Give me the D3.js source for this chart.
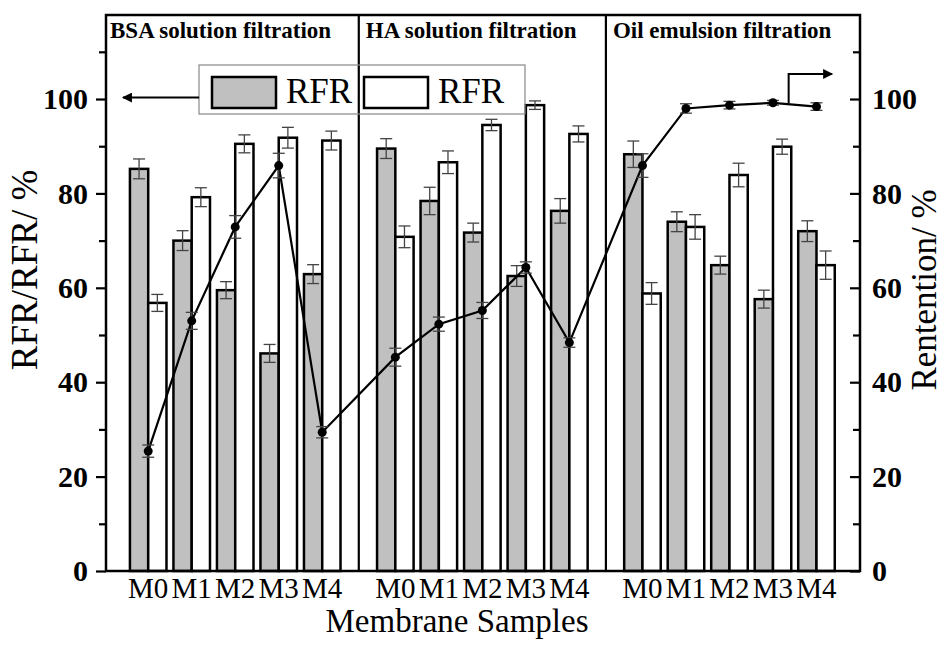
<!DOCTYPE html>
<html>
<head>
  <meta charset="utf-8">
  <script src="https://d3js.org/d3.v7.min.js"></script>
  <style type="text/css">
  body{
    margin: 0;
    background: #fff;
  }
  svg{
    display: block;
    font-family: "Liberation Serif", "Times New Roman", serif;
  }
  </style>
</head>
<body>
  <script type="text/javascript">
    "use strict";

    // categories
    var samples = ["M0", "M1", "M2", "M3", "M4"];
    var groups = ["BSA solution filtration", "HA solution filtration", "Oil emulsion filtration"];

    // grey bars (left axis)
    var rfrGray = [[85.2, 70.0, 59.5, 46.1, 62.9],
                   [89.5, 78.4, 71.7, 62.5, 76.3],
                   [88.3, 74.0, 64.8, 57.6, 72.0]];
    var rfrGrayErr = [[2.1, 2.1, 1.8, 1.9, 2.0],
                      [2.1, 2.9, 2.0, 2.2, 2.6],
                      [2.8, 2.1, 1.9, 1.9, 2.2]];

    // white bars (left axis)
    var rfrWhite = [[56.8, 79.2, 90.5, 91.8, 91.2],
                    [70.8, 86.6, 94.5, 98.7, 92.6],
                    [58.8, 72.9, 83.9, 89.9, 64.8]];
    var rfrWhiteErr = [[1.8, 2.0, 1.9, 2.2, 2.0],
                       [2.3, 2.4, 1.2, 0.9, 1.7],
                       [2.3, 2.6, 2.5, 1.6, 3.0]];

    // retention line (right axis)
    var retention = [[25.4, 53.0, 72.9, 85.9, 29.4],
                     [45.3, 52.3, 55.2, 64.3, 48.4],
                     [85.9, 98.0, 98.7, 99.2, 98.4]];
    var retentionErr = [[1.3, 1.8, 2.4, 2.6, 1.2],
                        [1.9, 1.5, 1.7, 1.2, 1.0],
                        [2.5, 1.0, 0.8, 0.5, 0.8]];

    var yTicks = [0, 20, 40, 60, 80, 100];
    var yMinor = [10, 30, 50, 70, 90, 110];

    var serif = "'Liberation Serif', 'Times New Roman', serif";

    var margin = {top: 15, right: 86, bottom: 75, left: 106},
      width = 946 - margin.left - margin.right,
      height = 646 - margin.top - margin.bottom;

    var groupStride = 5.68, barW = 0.42;
    function pos(g, i) { return g * groupStride + i; }

    var svg = d3.select("body")
      .append("svg")
      .attr("width", width + margin.left + margin.right)
      .attr("height", height + margin.top + margin.bottom)
      .attr("font-family", serif)
      .append("g")
      .attr("transform", "translate(" + margin.left + "," + margin.top + ")");

    var x = d3.scaleLinear()
      .domain([-0.97, pos(2, 4) + 1.0])
      .range([0, width]);

    var y = d3.scaleLinear()
      .domain([0, 117.8])
      .range([height, 0]);

    var y2 = d3.scaleLinear()
      .domain([0, 117.8])
      .range([height, 0]);

    // flatten into rows
    var rows = [];
    groups.forEach(function(gname, g) {
      samples.forEach(function(s, i) {
        rows.push({g: g, i: i, name: s, p: pos(g, i),
          gray: rfrGray[g][i], grayErr: rfrGrayErr[g][i],
          white: rfrWhite[g][i], whiteErr: rfrWhiteErr[g][i],
          ret: retention[g][i], retErr: retentionErr[g][i]});
      });
    });

    // bars
    svg.selectAll(".bar-gray")
      .data(rows)
      .enter().append("rect")
      .attr("class", "bar-gray")
      .attr("x", function(d) { return x(d.p - barW); })
      .attr("width", function(d) { return x(d.p) - x(d.p - barW); })
      .attr("y", function(d) { return y(d.gray); })
      .attr("height", function(d) { return y(0) - y(d.gray); })
      .attr("fill", "#c0c0c0")
      .attr("stroke", "#000")
      .attr("stroke-width", 2.5);

    svg.selectAll(".bar-white")
      .data(rows)
      .enter().append("rect")
      .attr("class", "bar-white")
      .attr("x", function(d) { return x(d.p); })
      .attr("width", function(d) { return x(d.p + barW) - x(d.p); })
      .attr("y", function(d) { return y(d.white); })
      .attr("height", function(d) { return y(0) - y(d.white); })
      .attr("fill", "#fff")
      .attr("stroke", "#000")
      .attr("stroke-width", 2.5);

    // error bars
    function errBar(cx, v, e, scale) {
      var cap = 6;
      var g = svg.append("g")
        .attr("stroke", "#444")
        .attr("stroke-width", 1.3);
      g.append("line").attr("x1", cx).attr("x2", cx)
        .attr("y1", scale(v + e)).attr("y2", scale(v - e));
      g.append("line").attr("x1", cx - cap).attr("x2", cx + cap)
        .attr("y1", scale(v + e)).attr("y2", scale(v + e));
      g.append("line").attr("x1", cx - cap).attr("x2", cx + cap)
        .attr("y1", scale(v - e)).attr("y2", scale(v - e));
    }
    rows.forEach(function(d) {
      errBar(x(d.p - barW / 2), d.gray, d.grayErr, y);
      errBar(x(d.p + barW / 2), d.white, d.whiteErr, y);
    });

    // retention line
    var line = d3.line()
      .x(function(d) { return x(d.p); })
      .y(function(d) { return y2(d.ret); });

    svg.append("path")
      .datum(rows)
      .attr("d", line)
      .attr("fill", "none")
      .attr("stroke", "#000")
      .attr("stroke-width", 2.2);

    rows.forEach(function(d) {
      errBar(x(d.p), d.ret, d.retErr, y2);
    });

    svg.selectAll(".dot")
      .data(rows)
      .enter().append("circle")
      .attr("class", "dot")
      .attr("cx", function(d) { return x(d.p); })
      .attr("cy", function(d) { return y2(d.ret); })
      .attr("r", 4.5)
      .attr("fill", "#000");

    // group dividers and titles
    var dividers = [pos(0, 4) + 0.84, pos(1, 4) + 0.84];
    svg.selectAll(".divider")
      .data(dividers)
      .enter().append("line")
      .attr("x1", function(d) { return x(d); })
      .attr("x2", function(d) { return x(d); })
      .attr("y1", 0)
      .attr("y2", height)
      .attr("stroke", "#000")
      .attr("stroke-width", 2.2);

    var titleX = [0].concat(dividers.map(function(d) { return x(d); }));
    svg.selectAll(".gtitle")
      .data(groups)
      .enter().append("text")
      .attr("x", function(d, i) { return titleX[i] + (i === 0 ? 4 : 7); })
      .attr("y", 23)
      .attr("font-weight", "bold")
      .attr("font-size", "23px")
      .text(function(d) { return d; });

    // axes
    function styleAxis(g) {
      g.select(".domain").remove();
      g.attr("font-family", serif).attr("font-size", 30).attr("font-weight", "bold");
      g.selectAll(".tick line").attr("stroke-width", 2.2);
    }

    var yAxis = d3.axisLeft(y).tickValues(yTicks).tickSize(10).tickPadding(8).tickFormat(d3.format("d"));
    svg.append("g").attr("class", "yaxis").call(yAxis).call(styleAxis);
    svg.append("g").call(d3.axisLeft(y).tickValues(yMinor).tickSize(7).tickFormat("")).call(styleAxis);

    var yAxis2 = d3.axisRight(y2).tickValues(yTicks).tickSize(-10).tickPadding(12).tickFormat(d3.format("d"));
    svg.append("g").attr("class", "yaxis2")
      .attr("transform", "translate(" + width + ",0)")
      .call(yAxis2).call(styleAxis);
    svg.append("g")
      .attr("transform", "translate(" + width + ",0)")
      .call(d3.axisRight(y2).tickValues(yMinor).tickSize(-7).tickFormat(""))
      .call(styleAxis);

    // frame
    svg.append("rect")
      .attr("x", 0).attr("y", 0)
      .attr("width", width).attr("height", height)
      .attr("fill", "none")
      .attr("stroke", "#000")
      .attr("stroke-width", 2.5);

    // category labels
    svg.selectAll(".cat")
      .data(rows)
      .enter().append("text")
      .attr("x", function(d) { return x(d.p); })
      .attr("y", height + 27)
      .attr("text-anchor", "middle")
      .attr("font-size", "29px")
      .text(function(d) { return d.name; });

    // axis titles
    svg.append("text")
      .attr("x", 457 - margin.left)
      .attr("y", height + 61)
      .attr("text-anchor", "middle")
      .attr("font-size", "33px")
      .text("Membrane Samples");

    svg.append("text")
      .attr("transform", "translate(" + (37 - margin.left) + "," + 255 + ") rotate(-90)")
      .attr("text-anchor", "middle")
      .attr("font-size", "37px")
      .text("RFR/RFR/ %");

    svg.append("text")
      .attr("transform", "translate(" + (936 - margin.left) + "," + 275 + ") rotate(-90)")
      .attr("text-anchor", "middle")
      .attr("font-size", "35px")
      .text("Rentention/ %");

    // legend
    var legend = svg.append("g")
      .attr("transform", "translate(" + (199 - margin.left) + "," + (65 - margin.top) + ")");
    legend.append("rect")
      .attr("width", 326).attr("height", 49)
      .attr("fill", "none")
      .attr("stroke", "#888")
      .attr("stroke-width", 1.2);
    [{fill: "#c0c0c0", x: 13}, {fill: "#fff", x: 165}].forEach(function(l) {
      legend.append("rect")
        .attr("x", l.x).attr("y", 12)
        .attr("width", 64).attr("height", 31)
        .attr("fill", l.fill)
        .attr("stroke", "#000")
        .attr("stroke-width", 2.5);
      legend.append("text")
        .attr("x", l.x + 74).attr("y", 38)
        .attr("font-size", "35px")
        .text("RFR");
    });

    // arrows pointing to each axis
    svg.append("defs").append("marker")
      .attr("id", "arrow")
      .attr("viewBox", "0 0 10 10")
      .attr("refX", 9).attr("refY", 5)
      .attr("markerWidth", 16).attr("markerHeight", 10)
      .attr("markerUnits", "userSpaceOnUse")
      .attr("orient", "auto")
      .append("path")
      .attr("d", "M0,0L10,5L0,10Z")
      .attr("fill", "#000");

    var arrowLine = d3.line()
      .x(function(d) { return x(d[0]); })
      .y(function(d) { return y(d[1]); });

    svg.append("path")
      .attr("d", arrowLine([[1.17, 100.3], [-0.58, 100.3]]))
      .attr("fill", "none").attr("stroke", "#000").attr("stroke-width", 2)
      .attr("marker-end", "url(#arrow)");

    svg.append("path")
      .attr("d", arrowLine([[14.72, 99.1], [14.72, 105.3], [15.72, 105.3]]))
      .attr("fill", "none").attr("stroke", "#000").attr("stroke-width", 2)
      .attr("marker-end", "url(#arrow)");
  </script>
</body>
</html>
